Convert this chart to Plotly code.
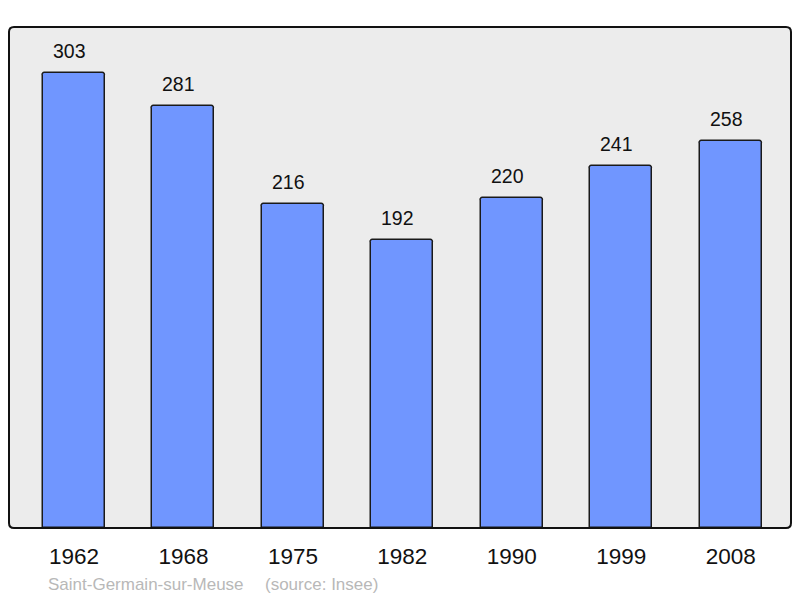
import plotly.graph_objects as go

years = ["1962", "1968", "1975", "1982", "1990", "1999", "2008"]
population = [303, 281, 216, 192, 220, 241, 258]
commune = "Saint-Germain-sur-Meuse"
source = "(source: Insee)"

W, H = 800, 598
ml, mr, mt, mb = 9, 9, 27, 70
pw, ph = W - ml - mr, H - mt - mb
FONT = "Liberation Sans, Arial"

fig = go.Figure()
fig.add_trace(go.Bar(
    x=years, y=population, width=0.567,
    marker=dict(color="#7096ff", line=dict(color="#1a1a1a", width=1.5), cornerradius=3),
    hoverinfo="skip",
))

for i, v in enumerate(population):
    fig.add_annotation(x=i, y=v, text=str(v), showarrow=False, yshift=22, xshift=-4.5,
                       font=dict(family=FONT, size=19.5, color="#111"))

# rounded frame
r = 5
rx, ry = r / pw, r / ph
path = (f"M {rx},0 L {1-rx},0 Q 1,0 1,{ry} L 1,{1-ry} Q 1,1 {1-rx},1 "
        f"L {rx},1 Q 0,1 0,{1-ry} L 0,{ry} Q 0,0 {rx},0 Z")
fig.add_shape(type="path", xref="paper", yref="paper", path=path,
              line=dict(color="#111", width=2), layer="above")

fig.add_annotation(xref="paper", yref="paper", x=(46 - ml) / pw, y=-(584 - 528) / ph,
                   xanchor="left", yanchor="middle", showarrow=False, text=commune,
                   font=dict(family=FONT, size=17, color="#b8b8b8"))
fig.add_annotation(xref="paper", yref="paper", x=(263 - ml) / pw, y=-(584 - 528) / ph,
                   xanchor="left", yanchor="middle", showarrow=False, text=source,
                   font=dict(family=FONT, size=17, color="#b8b8b8"))

fig.update_layout(
    width=W, height=H, margin=dict(l=ml, r=mr, t=mt, b=mb),
    paper_bgcolor="white", plot_bgcolor="#ececec",
    showlegend=False, bargap=0,
    xaxis=dict(type="category", range=[-0.594, 6.551], showgrid=False, zeroline=False,
               showline=False, ticks="outside", ticklen=8, tickcolor="rgba(0,0,0,0)",
               tickfont=dict(family=FONT, size=22.5, color="#111")),
    yaxis=dict(range=[0, 333.6], showgrid=False, zeroline=False, showline=False,
               showticklabels=False, ticks=""),
)

fig.write_html("out.html", config={"displayModeBar": False},
               post_script="document.body.style.margin='0';")
